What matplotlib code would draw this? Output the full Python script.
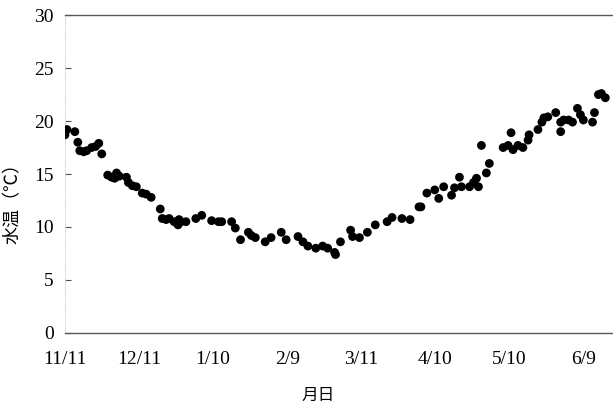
import matplotlib.pyplot as plt

# 11/11からの経過日数と水温
days = [0, 0.8, 4, 5.2, 6, 7.6, 8.8, 10.8, 12.4, 13.7, 14.9,
        17.3, 18.9, 20.1, 20.9, 22, 24.9, 25.7, 27.3, 28.9, 31.3, 32.9, 34.9,
        38.6, 39.4, 41, 42.2, 44.2, 45.8, 46.2, 47, 49, 53, 55.4, 59.4, 62.2,
        63.5, 67.5, 69, 71.1, 74.3, 75.5, 77.1, 81.1, 83.5, 87.6, 89.6, 94.4,
        96.4, 98.4, 101.6, 104.4, 106.4, 109.2, 109.6, 111.6, 115.7, 116.5,
        119.3, 122.5, 125.7, 130.5, 132.5, 136.5, 139.8, 143.4, 144.2, 146.6,
        149.8, 151.4, 153.4, 156.6, 157.8, 159.8, 160.6, 163.9, 165.5, 166.7,
        167.5, 168.7, 170.7, 171.9, 177.5, 179.5, 180.7, 181.5, 183.5, 185.5,
        187.6, 188, 191.6, 193.2, 194, 195.6, 198.8, 200.8, 200.8, 202, 204,
        205.6, 207.6, 208.8, 210, 213.7, 214.5, 216.1, 217.3, 218.9]
temp = [18.7, 19.2, 19.0, 18.0, 17.2, 17.1, 17.2, 17.5, 17.6, 17.9, 16.9,
        14.9, 14.7, 14.6, 15.1, 14.8, 14.7, 14.2, 13.9, 13.8, 13.2, 13.1, 12.8,
        11.7, 10.8, 10.7, 10.8, 10.5, 10.2, 10.7, 10.5, 10.5, 10.8, 11.1, 10.6, 10.5,
        10.5, 10.5, 9.9, 8.8, 9.5, 9.2, 9.0, 8.6, 9.0, 9.5, 8.8, 9.1,
        8.6, 8.2, 8.0, 8.2, 8.0, 7.6, 7.4, 8.6, 9.7, 9.1,
        9.0, 9.5, 10.2, 10.5, 10.9, 10.8, 10.7, 11.9, 11.9, 13.2,
        13.5, 12.7, 13.8, 13.0, 13.7, 14.7, 13.8, 13.8, 14.2, 14.6,
        13.8, 17.7, 15.1, 16.0, 17.5, 17.7, 18.9, 17.3, 17.7, 17.5,
        18.2, 18.7, 19.2, 19.9, 20.3, 20.4, 20.8, 19.9, 19.0, 20.1, 20.1,
        19.9, 21.2, 20.6, 20.1, 19.9, 20.8, 22.5, 22.6, 22.2]

tick_days = [0, 30, 60, 90, 120, 150, 180, 210]
tick_labels = ['11/11', '12/11', '1/10', '2/9', '3/11', '4/10', '5/10', '6/9']
yticks = [0, 5, 10, 15, 20, 25, 30]

serif = ['Liberation Serif', 'DejaVu Serif']
jp = ['Noto Sans CJK JP', 'DejaVu Sans']

fig = plt.figure(figsize=(6.13, 4.09), dpi=100)
ax = fig.add_axes([0.106, 0.186, 0.894, 0.777])

ax.scatter(days, temp, s=40, color='black', edgecolors='none', zorder=3)

ax.set_xlim(0, 222)
ax.set_ylim(0, 30)

ax.set_xticks(tick_days)
ax.set_xticklabels(tick_labels, family=serif, fontsize=14)
ax.set_yticks(yticks)
ax.set_yticklabels([str(v) for v in yticks], family=serif, fontsize=14)
ax.tick_params(axis='x', length=0, pad=13)
ax.tick_params(axis='y', direction='in', length=4, width=0.8, color='0.3', pad=8)

for s in ['top', 'bottom']:
    ax.spines[s].set_color('0.35')
    ax.spines[s].set_linewidth(1.0)
ax.spines['right'].set_visible(False)
ax.spines['left'].set_linestyle(':')
ax.spines['left'].set_color('0.8')
ax.spines['left'].set_linewidth(0.6)

ax.set_ylabel('水温（℃）', family=jp, fontsize=13)
ax.yaxis.set_label_coords(-0.078, 0.42)
ax.set_xlabel('月日', family=jp, fontsize=12)
ax.xaxis.set_label_coords(0.462, -0.17)

fig.savefig('out.png', dpi=100)
